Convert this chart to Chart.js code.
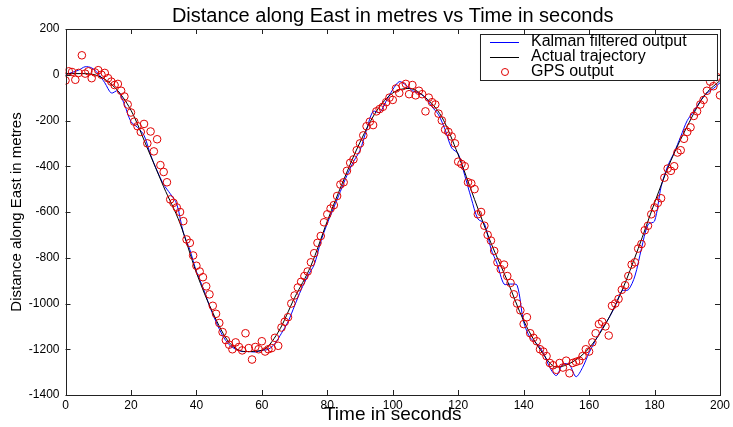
<!DOCTYPE html>
<html>
<head>
<meta charset="utf-8">
<script src="https://cdn.jsdelivr.net/npm/chart.js@4"></script>
<style>
  body { margin: 0; background: #fff; }
  #wrap { width: 733px; height: 427px; }
</style>
</head>
<body>
<div id="wrap"><canvas id="kalmanChart"></canvas></div>
<script>
// Time ticks and distance ticks
const timeTicks = [0, 20, 40, 60, 80, 100, 120, 140, 160, 180, 200];
const distanceTicks = [200, 0, -200, -400, -600, -800, -1000, -1200, -1400];

// Actual trajectory, one value every 5 s
const actualStep = 5;
const actualValues = [
    5, 5, -5, -55, -155, -320, -490, -650, -865, -1040,
    -1170, -1210, -1205, -1125, -975, -835, -640, -460, -295, -160,
    -80, -60, -100, -185, -350, -545, -735, -900, -1075, -1200,
    -1278, -1255, -1195, -1090, -945, -760, -560, -375, -225, -95,
    -25
];

// Kalman filtered output, one value every 2 s
const kalmanStep = 2;
const kalmanValues = [
    0, 10, 20, 35, 30, 5, -35, -80, -70, -130,
    -205, -230, -265, -350, -420, -480, -520, -565, -690, -765,
    -860, -930, -1010, -1080, -1140, -1180, -1200, -1210, -1210, -1212,
    -1205, -1200, -1175, -1130, -1080, -1010, -940, -880, -830, -730,
    -650, -580, -510, -440, -380, -330, -240, -160, -165, -115,
    -65, -30, -45, -70, -80, -100, -140, -175, -240, -320,
    -345, -440, -540, -630, -650, -760, -830, -915, -915, -920,
    -1080, -1150, -1175, -1215, -1280, -1315, -1265, -1268, -1320, -1280,
    -1215, -1160, -1110, -1065, -1010, -945, -940, -880, -760, -655,
    -640, -490, -400, -340, -270, -200, -160, -115, -80, -60,
    -35
];

// GPS output, one fix every second
const gpsStep = 1;
const gpsValues = [
    -25, 15, 12, -22, 8, 85, 5, 15, -15, 10,
    20, 0, 8, -15, -30, -45, -40, -70, -95, -130,
    -165, -205, -225, -250, -215, -300, -248, -335, -282, -395,
    -425, -470, -545, -560, -580, -600, -640, -720, -735, -790,
    -835, -860, -885, -925, -960, -1010, -1045, -1085, -1125, -1160,
    -1180, -1200, -1170, -1190, -1205, -1130, -1195, -1245, -1190, -1200,
    -1165, -1210, -1200, -1195, -1150, -1185, -1105, -1080, -1060, -1000,
    -965, -930, -905, -880, -860, -820, -780, -735, -705, -645,
    -610, -585, -570, -530, -480, -470, -420, -385, -370, -330,
    -300, -265, -225, -205, -220, -160, -150, -140, -120, -100,
    -110, -60, -80, -50, -40, -85, -45, -90, -70, -85,
    -160, -100, -120, -130, -170, -200, -240, -250, -270, -300,
    -380, -390, -400, -470, -475, -500, -610, -600, -660, -700,
    -725, -770, -820, -850, -830, -880, -910, -960, -1000, -1030,
    -1090, -1060, -1130, -1150, -1165, -1200, -1210, -1230, -1260, -1270,
    -1290, -1260, -1280, -1250, -1305, -1260, -1255, -1250, -1230, -1200,
    -1210, -1170, -1130, -1090, -1080, -1100, -1140, -1010, -1000, -980,
    -940, -920, -880, -830, -820, -760, -740, -680, -660, -610,
    -580, -560, -540, -450, -410, -420, -400, -340, -330, -280,
    -250, -230, -180, -160, -130, -110, -70, -30, -50, -10,
    -90
];

function toPoints(values, step) {
    return values.map((v, i) => ({ x: i * step, y: v }));
}

const FONT = 'Arial, "Liberation Sans", sans-serif';

// MATLAB style box with inward ticks
const boxTicks = {
    id: 'boxTicks',
    afterDatasetsDraw(chart) {
        const { ctx, chartArea: a, scales } = chart;
        const len = 5;
        ctx.save();
        ctx.strokeStyle = '#222';
        ctx.lineWidth = 1;
        ctx.beginPath();
        timeTicks.forEach(t => {
            const x = Math.round(scales.x.getPixelForValue(t)) + 0.5;
            ctx.moveTo(x, a.bottom); ctx.lineTo(x, a.bottom - len);
            ctx.moveTo(x, a.top); ctx.lineTo(x, a.top + len);
        });
        distanceTicks.forEach(d => {
            const y = Math.round(scales.y.getPixelForValue(d)) + 0.5;
            ctx.moveTo(a.left, y); ctx.lineTo(a.left + len, y);
            ctx.moveTo(a.right, y); ctx.lineTo(a.right - len, y);
        });
        ctx.stroke();
        ctx.strokeRect(Math.round(a.left) + 0.5, Math.round(a.top) + 0.5,
            Math.round(a.right - a.left), Math.round(a.bottom - a.top));
        ctx.restore();
    }
};

// Legend box in the top right corner of the axes
const boxLegend = {
    id: 'boxLegend',
    afterDraw(chart) {
        const { ctx, chartArea: a } = chart;
        const w = 237, h = 46;
        const left = a.right - w - 3, top = a.top + 5;
        ctx.save();
        ctx.fillStyle = '#fff';
        ctx.fillRect(left, top, w, h);
        ctx.strokeStyle = '#222';
        ctx.lineWidth = 1;
        ctx.strokeRect(left + 0.5, top + 0.5, w, h);
        ctx.font = '16px ' + FONT;
        ctx.textBaseline = 'middle';
        ctx.fillStyle = '#000';
        const ordered = chart.data.datasets.slice().sort((p, q) => p.legendIndex - q.legendIndex);
        ordered.forEach((ds, i) => {
            const y = top + 8 + i * 15;
            if (ds.showLine === false) {
                ctx.beginPath();
                ctx.strokeStyle = ds.borderColor;
                ctx.arc(left + 25, y, 3.5, 0, Math.PI * 2);
                ctx.stroke();
            } else {
                ctx.beginPath();
                ctx.strokeStyle = ds.borderColor;
                ctx.moveTo(left + 10, y + 0.5);
                ctx.lineTo(left + 39, y + 0.5);
                ctx.stroke();
            }
            ctx.fillText(ds.label, left + 51, y);
        });
        ctx.restore();
    }
};

new Chart(document.getElementById('kalmanChart'), {
    type: 'scatter',
    data: {
        datasets: [{
            label: 'Kalman filtered output',
            legendIndex: 0,
            data: toPoints(kalmanValues, kalmanStep),
            showLine: true,
            borderColor: '#0000ff',
            borderWidth: 1,
            pointRadius: 0,
            tension: 0.3,
            order: 2
        }, {
            label: 'Actual trajectory',
            legendIndex: 1,
            data: toPoints(actualValues, actualStep),
            showLine: true,
            borderColor: '#000000',
            borderWidth: 1,
            pointRadius: 0,
            cubicInterpolationMode: 'monotone',
            order: 1
        }, {
            label: 'GPS output',
            legendIndex: 2,
            data: toPoints(gpsValues, gpsStep),
            showLine: false,
            borderColor: '#e00000',
            backgroundColor: 'rgba(0,0,0,0)',
            borderWidth: 1,
            pointRadius: 3.8,
            order: 0
        }]
    },
    options: {
        responsive: true,
        maintainAspectRatio: false,
        animation: false,
        layout: { padding: { right: 13 } },
        plugins: {
            legend: { display: false },
            tooltip: { enabled: false },
            title: {
                display: true,
                fullSize: false,
                text: 'Distance along East in metres vs Time in seconds',
                color: '#000',
                font: { family: FONT, size: 20, weight: 'normal' },
                padding: { top: 4, bottom: 1 }
            }
        },
        scales: {
            x: {
                type: 'linear',
                min: 0,
                max: 200,
                afterBuildTicks: s => { s.ticks = timeTicks.map(v => ({ value: v })); },
                afterFit: s => { s.height = 32; },
                grid: { display: false, drawTicks: false },
                border: { display: false },
                ticks: { color: '#000', font: { family: FONT, size: 12 }, padding: 3, maxRotation: 0,
                    callback: v => String(v) },
                title: {
                    display: true,
                    text: 'Time in seconds',
                    color: '#000',
                    font: { family: FONT, size: 19 },
                    padding: { top: 0, bottom: 1 }
                }
            },
            y: {
                type: 'linear',
                min: -1400,
                max: 200,
                afterBuildTicks: s => { s.ticks = distanceTicks.map(v => ({ value: v })); },
                afterFit: s => { s.width = 65.5; },
                grid: { display: false, drawTicks: false },
                border: { display: false },
                ticks: { color: '#000', font: { family: FONT, size: 12 }, padding: 6,
                    callback: v => String(v) },
                title: {
                    display: true,
                    text: 'Distance along East in metres',
                    color: '#000',
                    font: { family: FONT, size: 15 },
                    padding: { top: 8, bottom: 0 }
                }
            }
        }
    },
    plugins: [boxTicks, boxLegend]
});
</script>
</body>
</html>
